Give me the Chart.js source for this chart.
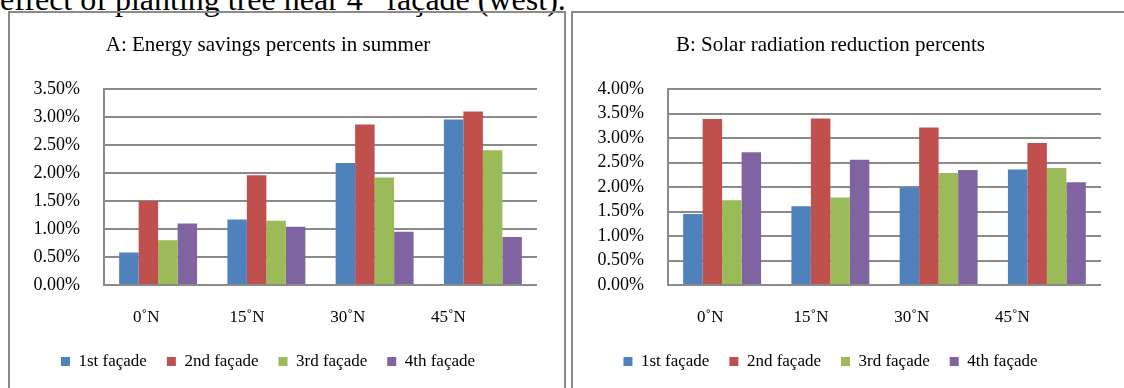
<!DOCTYPE html>
<html>
<head>
<meta charset="UTF-8">
<title>Tree planting charts</title>
<style>
body {
	margin: 0;
	background: #ffffff;
	width: 1124px;
	height: 388px;
	overflow: hidden;
	position: relative;
	font-family: 'Liberation Serif', 'Times New Roman', serif;
}
.caption {
	position: absolute;
	left: 0;
	top: -25px;
	font-size: 32px;
	line-height: 32px;
	white-space: nowrap;
}
.caption sup { font-size: 20px; }
.frame {
	position: absolute;
	top: 11px;
	height: 400px;
	border: 2px solid #8a8a8a;
	box-sizing: border-box;
}
.chart { position: absolute; top: 0; }
</style>
<script src="https://cdn.jsdelivr.net/npm/chart.js"></script>
<script>
// latitude groups on the x axis
const latitudes = ['0˚N', '15˚N', '30˚N', '45˚N'];
const facades = ['1st façade', '2nd façade', '3rd façade', '4th façade'];
const facadeColors = ['#4F81BD', '#C0504D', '#9BBB59', '#8064A2'];

// A: energy savings in summer (%)
const savings1st = [0.58, 1.17, 2.18, 2.96];
const savings2nd = [1.50, 1.96, 2.87, 3.10];
const savings3rd = [0.80, 1.15, 1.92, 2.41];
const savings4th = [1.10, 1.04, 0.95, 0.86];

// B: solar radiation reduction (%)
const solar1st = [1.45, 1.61, 1.99, 2.36];
const solar2nd = [3.39, 3.40, 3.22, 2.90];
const solar3rd = [1.73, 1.79, 2.29, 2.39];
const solar4th = [2.71, 2.56, 2.35, 2.10];

const serif = "'Liberation Serif', 'Times New Roman', serif";
const gridGray = '#8a8a8a';

function makeChart(id, title, series, yMax, axisWidth) {
	var ctx = document.getElementById(id).getContext('2d');
	return new Chart(ctx, {
		type: 'bar',
		data: {
			labels: latitudes,
			datasets: series.map(function(values, i) {
				return {
					label: facades[i],
					data: values,
					backgroundColor: facadeColors[i],
					borderWidth: 0,
					categoryPercentage: 0.72,
					barPercentage: 1.0
				};
			})
		},
		options: {
			responsive: false,
			animation: false,
			layout: { padding: { left: 0, right: 2, top: 0, bottom: 8 } },
			plugins: {
				title: {
					display: true,
					text: title,
					color: '#000',
					font: { family: serif, size: 21, weight: 'normal' },
					padding: { top: 33, bottom: 31 }
				},
				legend: {
					position: 'bottom',
					labels: {
						color: '#000',
						font: { family: serif, size: 17 },
						boxWidth: 9,
						boxHeight: 9,
						padding: 20
					}
				},
				tooltip: { enabled: false }
			},
			scales: {
				x: { display: false },
				// labels sit on their own axis, as in the original they drift from the bar groups
				xLabels: {
					type: 'linear',
					position: 'bottom',
					offset: false,
					min: -0.42,
					max: 3.88,
					grid: { display: false },
					border: { display: false },
					afterBuildTicks: function(scale) {
						scale.ticks = latitudes.map(function(_, i) { return { value: i }; });
					},
					afterFit: function(scale) { scale.height = 48; },
					ticks: {
						color: '#000',
						font: { family: serif, size: 17 },
						padding: 14,
						maxRotation: 0,
						autoSkip: false,
						callback: function(v) { return latitudes[v]; }
					}
				},
				y: {
					min: 0,
					max: yMax,
					afterFit: function(scale) { scale.width = axisWidth; },
					grid: { color: gridGray, lineWidth: 2, drawTicks: false },
					border: { display: true, color: gridGray, width: 2 },
					ticks: {
						stepSize: 0.5,
						autoSkip: false,
						color: '#000',
						font: { family: serif, size: 18 },
						padding: 24,
						callback: function(v) { return v.toFixed(2) + '%'; }
					}
				}
			}
		}
	});
}

document.addEventListener('DOMContentLoaded', function() {
	makeChart('energyChart', 'A: Energy savings percents in summer',
		[savings1st, savings2nd, savings3rd, savings4th], 3.5, 105);
	makeChart('solarChart', 'B: Solar radiation reduction percents',
		[solar1st, solar2nd, solar3rd, solar4th], 4.0, 108);
});
</script>
</head>
<body>
	<div class="caption">effect of planting tree near 4<sup>th</sup> façade (west).</div>
	<div class="frame" style="left:8px; width:558px;"></div>
	<div class="frame" style="left:571px; width:600px;"></div>
	<canvas class="chart" id="energyChart" width="540" height="388" style="left:-1px;"></canvas>
	<canvas class="chart" id="solarChart" width="543" height="388" style="left:560px;"></canvas>
</body>
</html>
